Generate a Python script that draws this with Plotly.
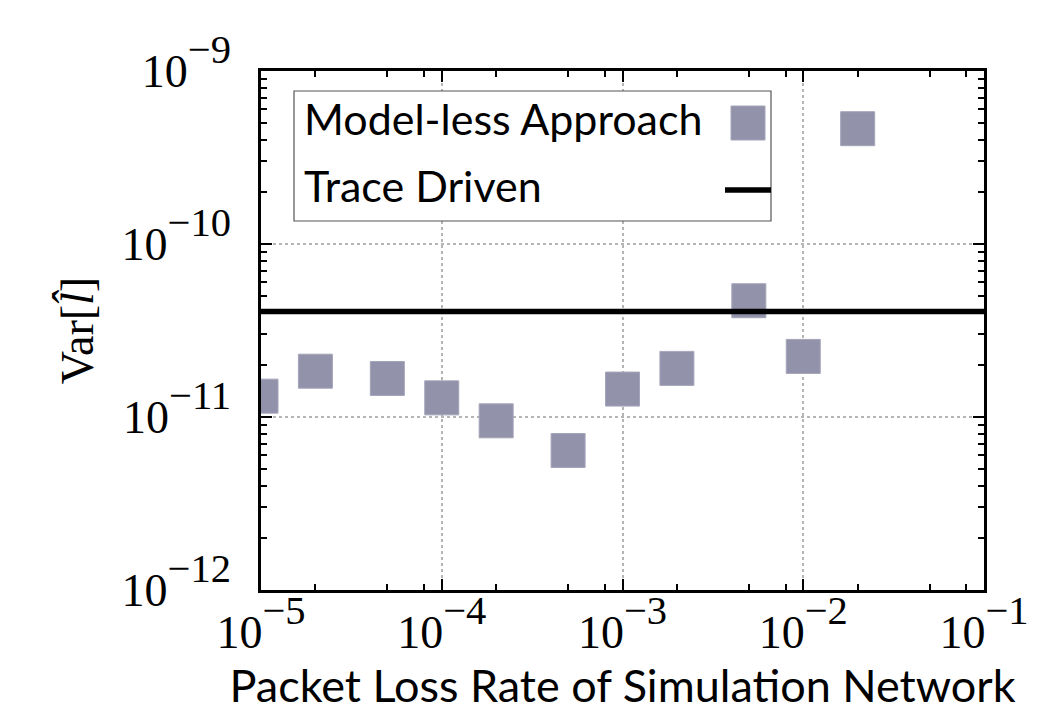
import plotly.graph_objects as go

loss_rate = [1e-5, 2e-5, 5e-5, 1e-4, 2e-4, 5e-4, 1e-3, 2e-3, 5e-3, 1e-2, 2e-2]
var_modelless = [1.32e-11, 1.84e-11, 1.67e-11, 1.29e-11, 9.5e-12, 6.4e-12,
                 1.45e-11, 1.91e-11, 4.7e-11, 2.24e-11, 4.64e-10]
trace_driven = 4.07e-11
x_range = [1e-5, 1e-1]
y_range = [1e-12, 1e-9]
x_ticks = [1e-5, 1e-4, 1e-3, 1e-2, 1e-1]
x_exps = ["5", "4", "3", "2", "1"]
y_ticks = [1e-12, 1e-11, 1e-10, 1e-9]
y_exps = ["12", "11", "10", "9"]


def sci(e):
    return "10<span style='font-size:58px'><sup>−" + e + "</sup></span>"


x_labels = [sci(e) for e in x_exps]
y_labels = [sci(e) for e in y_exps]

marker_color = "#9292AB"
W, H = 1051, 713
L, R, T, B = 253, 75, 63, 131
pw, ph = W - L - R, H - T - B


def px(x):
    return (x - L) / pw


def py(y):
    return 1 - (y - T) / ph


x_minor = [m * 10 ** k for k in range(-5, -1) for m in (2, 5, 8)]
y_minor = [m * 10 ** k for k in range(-12, -9) for m in range(2, 10)]

fig = go.Figure()
fig.add_trace(go.Scatter(
    x=loss_rate, y=var_modelless, mode="markers", name="Model-less Approach",
    marker=dict(symbol="square", size=34, color=marker_color,
                line=dict(color="#A4A4BA", width=1)),
    showlegend=False))
fig.add_trace(go.Scatter(
    x=x_range, y=[trace_driven, trace_driven], mode="lines", name="Trace Driven",
    line=dict(color="black", width=5.5), showlegend=False))

serif = "Liberation Serif"
sans = "Lato"

axis_common = dict(
    type="log", showline=True, linecolor="black", linewidth=2.5, mirror="allticks",
    ticks="inside", ticklen=11, tickwidth=2, tickcolor="black",
    showgrid=True, gridcolor="#b5b5b5", griddash="dot", gridwidth=1.5,
    zeroline=False, tickfont=dict(family=serif, size=46, color="black"),
)

fig.update_xaxes(
    **axis_common, range=[-5, -1], tickvals=x_ticks, ticktext=x_labels,
    ticklabelstandoff=0,
    minor=dict(tickvals=x_minor, ticks="inside", ticklen=6, tickwidth=1.5,
               tickcolor="black", showgrid=False),
    title=dict(text="Packet Loss Rate of Simulation Network",
               font=dict(family=sans, size=45, color="black"), standoff=0),
)
fig.update_yaxes(
    **axis_common, range=[-12, -9], tickvals=y_ticks, ticktext=y_labels,
    ticklabelstandoff=18,
    minor=dict(tickvals=y_minor, ticks="inside", ticklen=6, tickwidth=1.5,
               tickcolor="black", showgrid=False),
    title=dict(text="Var[<i>l̂</i>]", font=dict(family=serif, size=46, color="black"),
               standoff=14),
)

shapes = [
    dict(type="rect", xref="paper", yref="paper", x0=px(286), x1=px(763), y0=py(213), y1=py(83),
         line=dict(color="#555555", width=1.2), fillcolor="white", layer="above"),
    dict(type="rect", xref="paper", yref="paper", x0=px(723), x1=px(757), y0=py(132), y1=py(98),
         line=dict(color="#A4A4BA", width=1), fillcolor=marker_color, layer="above"),
    dict(type="line", xref="paper", yref="paper", x0=px(717), x1=px(763), y0=py(182), y1=py(182),
         line=dict(color="black", width=5.5), layer="above"),
]
annotations = [
    dict(text="Model-less Approach", xref="paper", yref="paper", x=px(294), y=py(111),
         xanchor="left", yanchor="middle", showarrow=False,
         font=dict(family=sans, size=43, color="black")),
    dict(text="Trace Driven", xref="paper", yref="paper", x=px(294), y=py(177),
         xanchor="left", yanchor="middle", showarrow=False,
         font=dict(family=sans, size=43, color="black")),
]

fig.update_layout(
    width=W, height=H, margin=dict(l=L, r=R, t=T, b=B),
    plot_bgcolor="white", paper_bgcolor="white",
    shapes=shapes, annotations=annotations, showlegend=False,
)
fig.write_html("out.html")
